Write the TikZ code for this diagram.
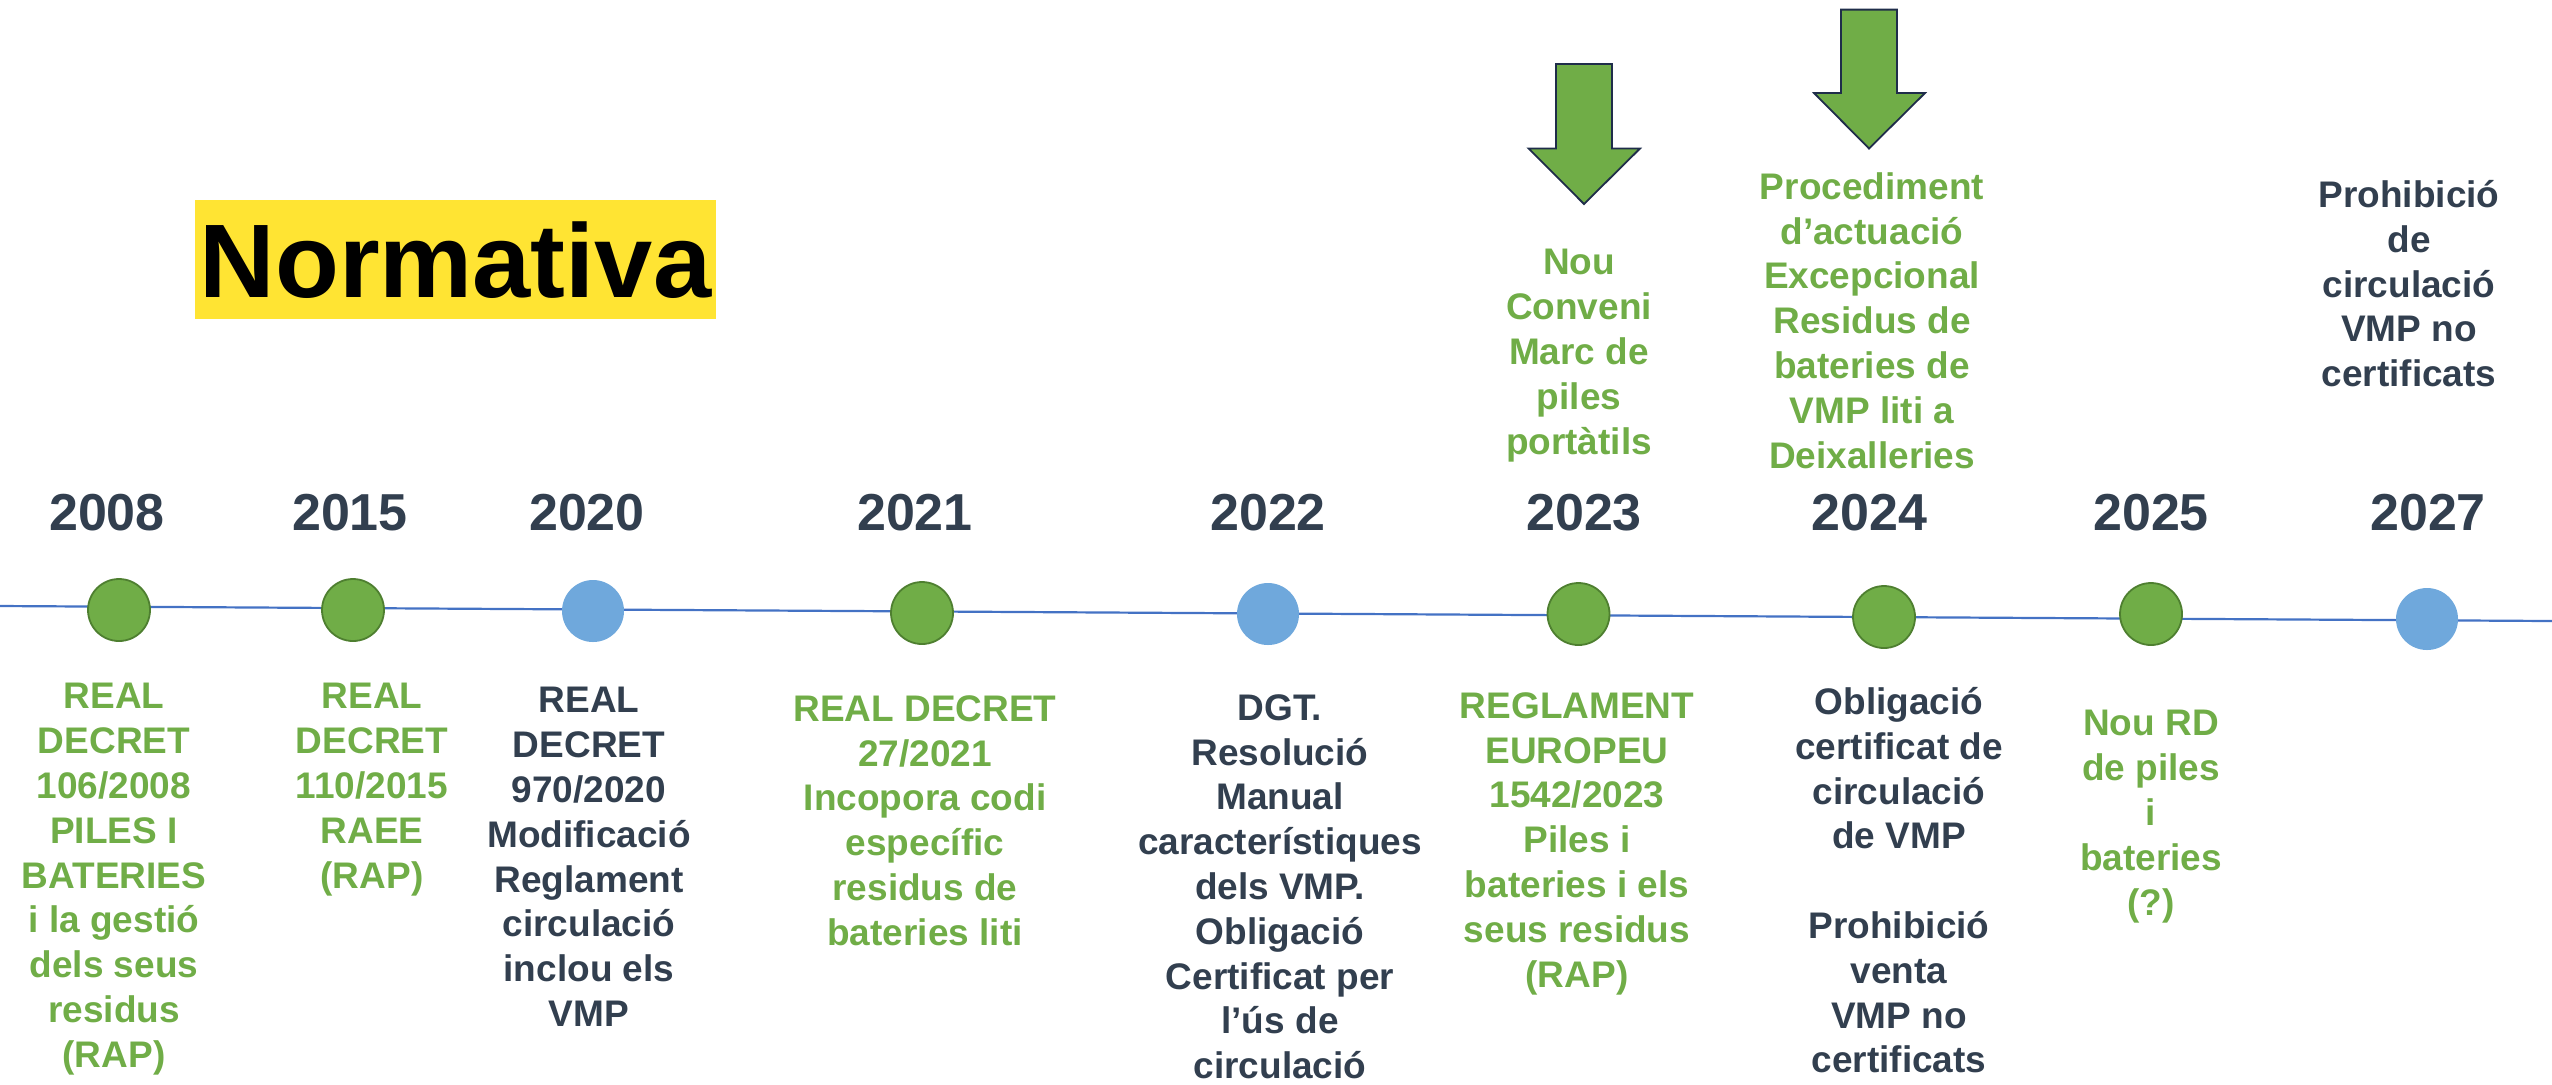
\documentclass[tikz,border=0pt]{standalone}
\usepackage{fontspec}
\setmainfont{Liberation Sans}
\definecolor{cgreen}{HTML}{70AD47}
\definecolor{cgreendark}{HTML}{4E7F30}
\definecolor{cblue}{HTML}{6FA8DC}
\definecolor{cline}{HTML}{4472C4}
\definecolor{cdark}{HTML}{323F4F}
\definecolor{cnavy}{HTML}{1F2D4A}
\definecolor{cyellow}{HTML}{FFE433}
\tikzset{
  gdot/.style={circle, fill=cgreen, draw=cgreendark, line width=0.9pt, minimum size=31pt, inner sep=0pt},
  bdot/.style={circle, fill=cblue, minimum size=31pt, inner sep=0pt},
  yearlbl/.style={font=\fontsize{26}{30}\selectfont\bfseries, text=cdark, anchor=base, inner sep=0pt},
  gtext/.style={font=\fontsize{18.5}{22.4}\selectfont\bfseries, text=cgreen, align=center, anchor=north, inner sep=0pt},
  dtext/.style={font=\fontsize{18.5}{22.4}\selectfont\bfseries, text=cdark, align=center, anchor=north, inner sep=0pt},
  greenarrow/.style={fill=cgreen, draw=cnavy, line width=0.9pt, line join=miter},
  titlebox/.style={fill=cyellow, minimum width=260.5pt, minimum height=59.5pt, inner sep=0pt,
    font=\fontsize{52.3}{60}\selectfont\bfseries, text=black}
}
\begin{document}
\begin{tikzpicture}[x=0.5pt,y=-0.5pt]
\useasboundingbox (0,0) rectangle (2552,1084);

% title
\node[titlebox] (title) at (455.5,259.6) {Normativa};

% timeline
\coordinate (tlstart) at (0,606);
\coordinate (tlend) at (2552,621);
\draw[cline, line width=1.1pt] (tlstart) -- (tlend);

% dots
\node[gdot] (d2008) at (119,610) {};
\node[gdot] (d2015) at (353,610) {};
\node[bdot] (d2020) at (593,611) {};
\node[gdot] (d2021) at (922,613) {};
\node[bdot] (d2022) at (1268,614) {};
\node[gdot] (d2023) at (1578.5,614) {};
\node[gdot] (d2024) at (1884,617) {};
\node[gdot] (d2025) at (2151,614) {};
\node[bdot] (d2027) at (2427,619) {};

% years
\node[yearlbl] (y2008) at (107,530) {2008};
\node[yearlbl] (y2015) at (350,530) {2015};
\node[yearlbl] (y2020) at (587,530) {2020};
\node[yearlbl] (y2021) at (915,530) {2021};
\node[yearlbl] (y2022) at (1268,530) {2022};
\node[yearlbl] (y2023) at (1584,530) {2023};
\node[yearlbl] (y2024) at (1869.5,530) {2024};
\node[yearlbl] (y2025) at (2151,530) {2025};
\node[yearlbl] (y2027) at (2428,530) {2027};

% texts below
\node[gtext] (t2008) at (114,683) {REAL\\DECRET\\106/2008\\PILES I\\BATERIES\\i la gestió\\dels seus\\residus\\(RAP)};
\node[gtext] (t2015) at (372,683) {REAL\\DECRET\\110/2015\\RAEE\\(RAP)};
\node[dtext] (t2020) at (589,687) {REAL\\DECRET\\970/2020\\Modificació\\Reglament\\circulació\\inclou els\\VMP};
\node[gtext] (t2021) at (925,695) {REAL DECRET\\27/2021\\Incopora codi\\específic\\residus de\\bateries liti};
\node[dtext] (t2022) at (1280,694) {DGT.\\Resolució\\Manual\\característiques\\dels VMP.\\Obligació\\Certificat per\\l’ús de\\circulació};
\node[gtext] (t2023) at (1577,692) {REGLAMENT\\EUROPEU\\1542/2023\\Piles i\\bateries i els\\seus residus\\(RAP)};
\node[dtext] (t2024) at (1899,687) {Obligació\\certificat de\\circulació\\de VMP\\[22.4pt]Prohibició\\venta\\VMP no\\certificats};
\node[gtext] (t2025) at (2151,710) {Nou RD\\de piles\\i\\bateries\\(?)};

% texts above
\node[gtext] (a2023) at (1579,249) {Nou\\Conveni\\Marc de\\piles\\portàtils};
\node[gtext] (a2024) at (1872,172) {Procediment\\d’actuació\\Excepcional\\Residus de\\bateries de\\VMP liti a\\Deixalleries};
\node[dtext] (a2027) at (2409,180) {Prohibició\\de\\circulació\\VMP no\\certificats};

% arrows
\draw[greenarrow] (1556,64) -- (1612,64) -- (1612,148.5) -- (1640,148.5) -- (1584,204) -- (1528.6,148.5) -- (1556,148.5) -- cycle;
\draw[greenarrow] (1841,9.6) -- (1897,9.6) -- (1897,93) -- (1925,93) -- (1869,148.5) -- (1814,93) -- (1841,93) -- cycle;
\end{tikzpicture}
\end{document}
